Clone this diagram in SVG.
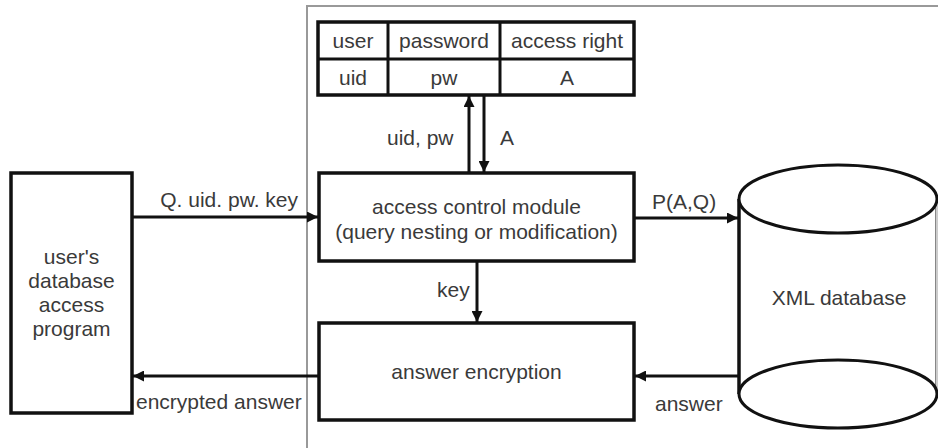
<svg xmlns="http://www.w3.org/2000/svg" width="938" height="448" viewBox="0 0 938 448">
<style>
text{font-family:"Liberation Sans",Arial,sans-serif;font-size:21px;fill:#3a3a3a;}
.m{text-anchor:middle;}
.e{text-anchor:end;}
.box{fill:#fff;stroke:#111;stroke-width:3.5;}
.ln{stroke:#111;stroke-width:3;fill:none;}
.frame{fill:none;stroke:#999;stroke-width:2;}
</style>
<defs>
<marker id="ah" viewBox="0 0 10 10" refX="10" refY="5" markerWidth="12" markerHeight="11" markerUnits="userSpaceOnUse" orient="auto">
<path d="M0,0 L10,5 L0,10 z" fill="#111"/>
</marker>
</defs>
<rect width="938" height="448" fill="#fff"/>
<path class="frame" d="M307,448 V6 H938"/>
<g id="table">
<rect class="box" x="318" y="22" width="316" height="73"/>
<line class="ln" x1="318" y1="59" x2="634" y2="59" stroke-width="2.5"/>
<line class="ln" x1="388" y1="22" x2="388" y2="95" stroke-width="2.5"/>
<line class="ln" x1="500" y1="22" x2="500" y2="95" stroke-width="2.5"/>
<text class="m" x="353" y="48">user</text>
<text class="m" x="444" y="48">password</text>
<text class="m" x="567" y="48">access right</text>
<text class="m" x="353" y="85">uid</text>
<text class="m" x="444" y="85">pw</text>
<text class="m" x="567" y="85">A</text>
</g>
<g id="user-program">
<rect class="box" x="11" y="173" width="121" height="240"/>
<text class="m" x="71.5" y="264">user's</text>
<text class="m" x="71.5" y="288">database</text>
<text class="m" x="71.5" y="312">access</text>
<text class="m" x="71.5" y="336">program</text>
</g>
<g id="access-control">
<rect class="box" x="319" y="173" width="315" height="88"/>
<text class="m" x="476.5" y="214">access control module</text>
<text class="m" x="476.5" y="239">(query nesting or modification)</text>
</g>
<g id="answer-encryption">
<rect class="box" x="319" y="323" width="315" height="97"/>
<text class="m" x="476.5" y="379">answer encryption</text>
</g>
<g id="xml-db">
<path d="M739,199 V394 M937,199 V394" stroke="#111" stroke-width="3" fill="#fff"/>
<line x1="937" y1="199" x2="937" y2="394" stroke="#ccc" stroke-width="2"/>
<line x1="739" y1="199" x2="739" y2="394" stroke="#111" stroke-width="3"/>
<ellipse cx="838" cy="394" rx="99" ry="34" fill="#fff" stroke="#111" stroke-width="3"/>
<ellipse cx="838" cy="199" rx="99" ry="34" fill="#fff" stroke="#111" stroke-width="3"/>
<text class="m" x="839" y="305">XML database</text>
</g>
<g id="connectors">
<line class="ln" x1="132" y1="217" x2="318" y2="217" marker-end="url(#ah)"/>
<line class="ln" x1="319" y1="376" x2="133" y2="376" marker-end="url(#ah)"/>
<line class="ln" x1="634" y1="218" x2="738" y2="218" marker-end="url(#ah)"/>
<line class="ln" x1="739" y1="376" x2="635" y2="376" marker-end="url(#ah)"/>
<line class="ln" x1="469" y1="173" x2="469" y2="96" marker-end="url(#ah)"/>
<line class="ln" x1="484" y1="95" x2="484" y2="172" marker-end="url(#ah)"/>
<line class="ln" x1="477" y1="261" x2="477" y2="322" marker-end="url(#ah)"/>
<text class="e" x="298" y="207">Q. uid. pw. key</text>
<text x="136" y="409">encrypted answer</text>
<text x="652" y="209">P(A,Q)</text>
<text x="655" y="411">answer</text>
<text x="387" y="145">uid, pw</text>
<text x="500" y="145">A</text>
<text x="437" y="297">key</text>
</g>
</svg>
